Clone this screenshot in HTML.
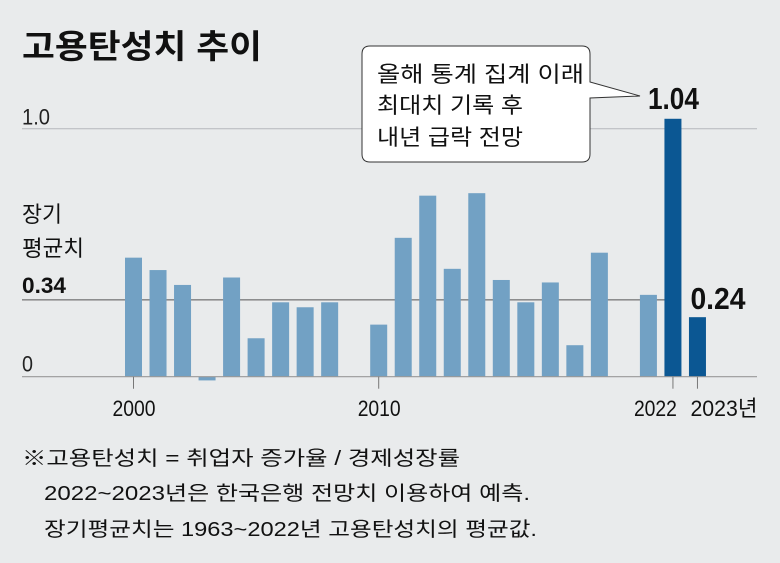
<!DOCTYPE html>
<html><head><meta charset="utf-8"><style>
html,body{margin:0;padding:0;background:#e9ebec;}
svg{display:block;font-family:"Liberation Sans","Noto Sans CJK KR",sans-serif;}
</style></head><body>
<svg id="chart" width="780" height="563" viewBox="0 0 780 563" xmlns="http://www.w3.org/2000/svg">
<rect width="780" height="563" fill="#e9ebec"/>
<text x="22" y="58" font-size="33" font-weight="bold" fill="#111" textLength="240" lengthAdjust="spacingAndGlyphs">고용탄성치 추이</text>
<g id="grid"></g>
<g id="bars"></g>
<g id="axis"></g>
<g>
<path d="M370,46 H582 Q590,46 590,54 V82 L640,96 L590,98 V154 Q590,162 582,162 H370 Q362,162 362,154 V54 Q362,46 370,46 Z" fill="#fff" stroke="#333" stroke-width="1"/>
<text x="377" y="82" font-size="22" fill="#111" textLength="207" lengthAdjust="spacingAndGlyphs">올해 통계 집계 이래</text>
<text x="377" y="113" font-size="22" fill="#111" textLength="146" lengthAdjust="spacingAndGlyphs">최대치 기록 후</text>
<text x="377" y="145" font-size="22" fill="#111" textLength="146" lengthAdjust="spacingAndGlyphs">내년 급락 전망</text>
</g>
<text x="22" y="222" font-size="22" fill="#111" textLength="40" lengthAdjust="spacingAndGlyphs">장기</text>
<text x="22" y="256" font-size="22" fill="#111" textLength="62" lengthAdjust="spacingAndGlyphs">평균치</text>
<text x="22" y="465" font-size="20" fill="#111" textLength="438" lengthAdjust="spacingAndGlyphs">※고용탄성치 = 취업자 증가율 / 경제성장률</text>
<text x="44" y="500" font-size="20" fill="#111" textLength="486" lengthAdjust="spacingAndGlyphs">2022~2023년은 한국은행 전망치 이용하여 예측.</text>
<text x="44" y="536" font-size="20" fill="#111" textLength="493" lengthAdjust="spacingAndGlyphs">장기평균치는 1963~2022년 고용탄성치의 평균값.</text>
</svg>
<script>
const years = [2000,2001,2002,2003,2004,2005,2006,2007,2008,2009,2010,2011,2012,2013,2014,2015,2016,2017,2018,2019,2020,2021,2022,2023];
const values = [0.48,0.43,0.37,-0.015,0.40,0.155,0.30,0.28,0.30,null,0.21,0.56,0.73,0.435,0.74,0.39,0.30,0.38,0.127,0.50,null,0.33,1.04,0.24];
const highlightYears = [2022,2023];
const tickYears = [2000,2010,2022,2023];
const tickLabels = ["2000","2010","2022","2023년"];
const avgValue = 0.31;
const avgLabel = "0.34";
const NS="http://www.w3.org/2000/svg";
const x0=133.5, step=24.52, yZero=376.7, unit=248;
const xs = yr => x0 + (yr-2000)*step;
const ys = v => yZero - v*unit;
function mk(tag, attrs, parent){const e=document.createElementNS(NS,tag);for(const k in attrs)e.setAttribute(k,attrs[k]);parent.appendChild(e);return e;}
const grid=document.getElementById('grid'), bars=document.getElementById('bars'), axis=document.getElementById('axis');
let g1=mk('line',{x1:22,x2:757,y1:ys(1.0),y2:ys(1.0),stroke:'#b5b8bb','stroke-width':1},grid);


let t1=mk('text',{x:22,y:ys(1.0)-4,'font-size':22,fill:'#222',textLength:28,lengthAdjust:'spacingAndGlyphs'},grid);t1.textContent='1.0';


let t0=mk('text',{x:22,y:yZero-5,'font-size':22,fill:'#222',textLength:11,lengthAdjust:'spacingAndGlyphs'},grid);t0.textContent='0';


let al=mk('line',{x1:22,x2:665,y1:ys(avgValue),y2:ys(avgValue),stroke:'#555','stroke-width':1},grid);


let at=mk('text',{x:22,y:ys(avgValue)-7,'font-size':22,'font-weight':'bold',fill:'#111',textLength:44,lengthAdjust:'spacingAndGlyphs'},grid);at.textContent=avgLabel;


years.forEach((yr,i)=>{
  const v=values[i]; if(v===null) return;
  const hi=highlightYears.includes(yr);
  const top=Math.min(ys(v),yZero), h=Math.abs(ys(v)-yZero);
  const r=mk('rect',{x:xs(yr)-8.5,y:top,width:17,height:Math.max(h,1),fill:hi?'#0b5793':'#72a1c4'},bars);
  
  
  if(hi){
    const lt=mk('text',{x:yr===2022?xs(yr)-25:xs(yr)-7,y:ys(v)-(yr===2022?10:8),'font-size':31,'font-weight':'bold',fill:'#111',textLength:yr===2022?51:55,lengthAdjust:'spacingAndGlyphs'},bars);
    lt.textContent=v.toFixed(2);
    
    
  }
});
let zl=mk('line',{x1:22,x2:757,y1:yZero,y2:yZero,stroke:'#999','stroke-width':1.2},axis);


tickYears.forEach((yr,i)=>{
  const tk=mk('line',{x1:xs(yr),x2:xs(yr),y1:yZero,y2:yZero+12,stroke:'#777','stroke-width':1},axis);
  
  
  const last=i===tickYears.length-1;
  const penult=i===tickYears.length-2;
  const lx = last ? xs(yr)-7 : (penult ? xs(yr)-39 : xs(yr)-21);
  const lb=mk('text',{x:lx,y:416,'font-size':22,fill:'#111',textLength:last?67:43,lengthAdjust:'spacingAndGlyphs'},axis);
  lb.textContent=tickLabels[i];
  
  
});
</script>
</body></html>
